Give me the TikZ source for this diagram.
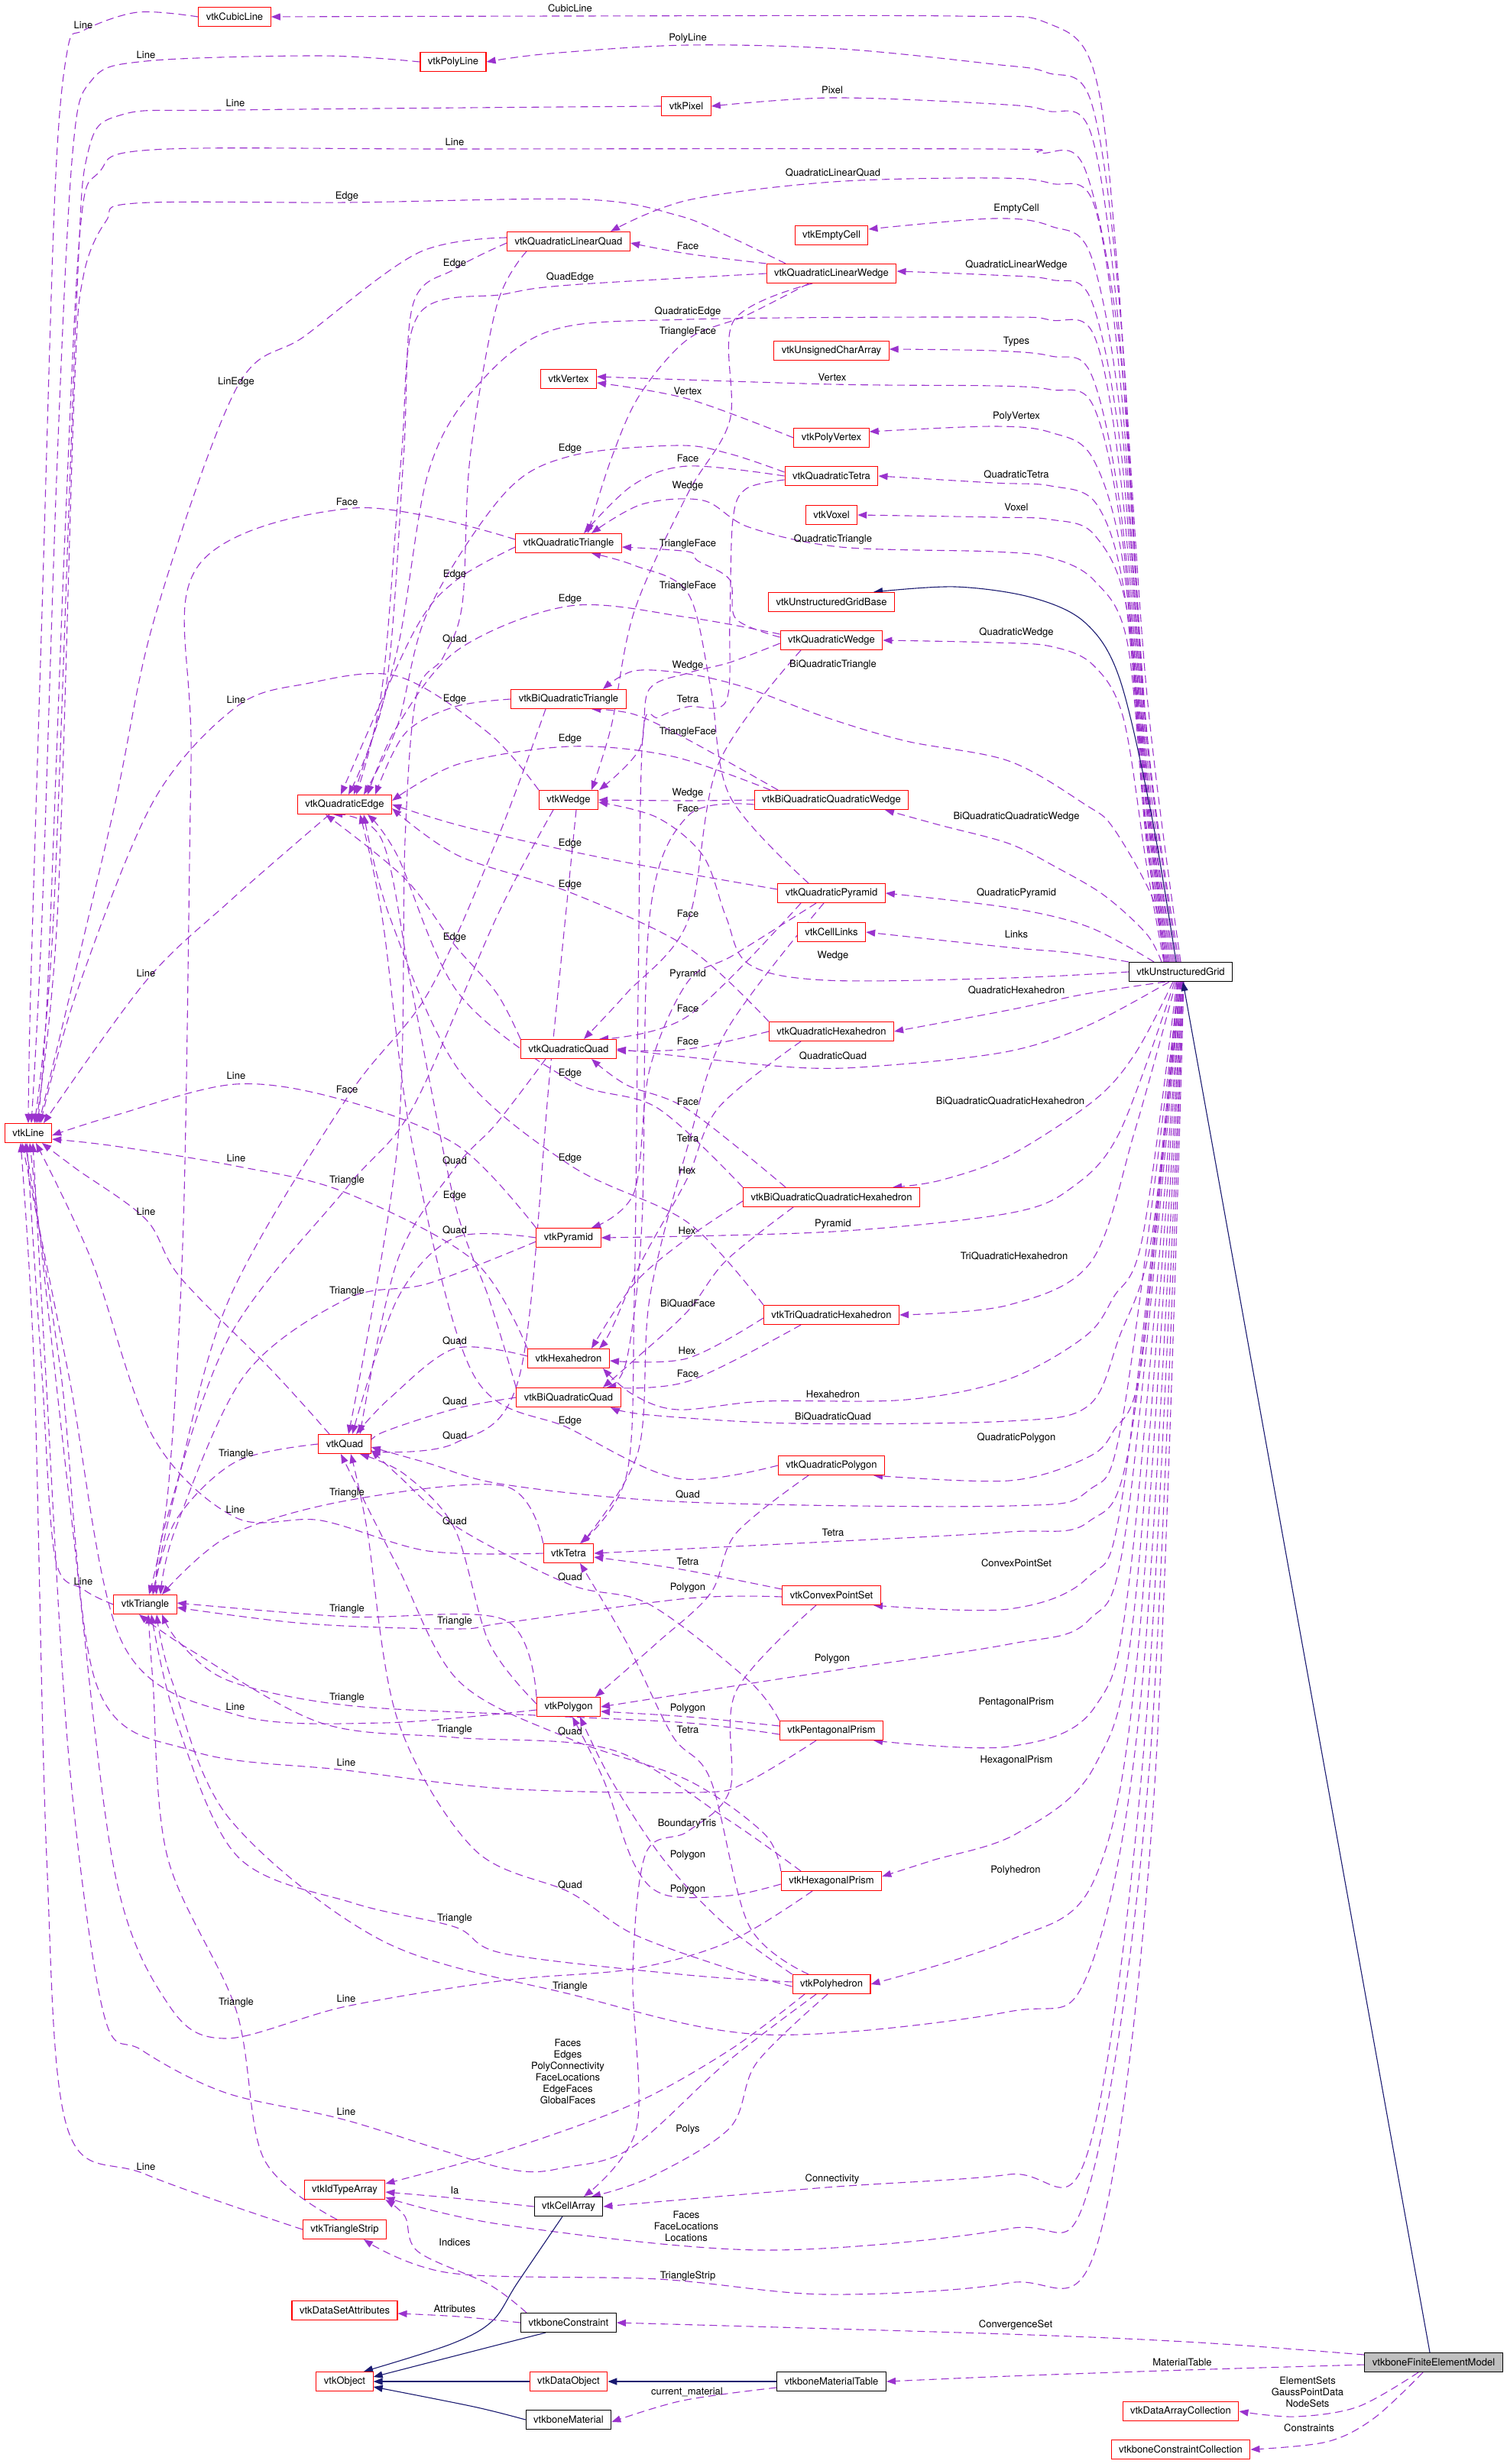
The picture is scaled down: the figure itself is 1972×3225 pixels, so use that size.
\documentclass[tikz,border=0pt]{standalone}
\usepackage{fontspec}
\setmainfont{TeX Gyre Heros}
\usepackage{tikz}
\usetikzlibrary{arrows.meta}
\definecolor{usecol}{RGB}{154,50,205}
\definecolor{isacol}{RGB}{25,25,112}
\definecolor{focusgray}{RGB}{191,191,191}
\pgfdeclarelayer{bg}
\pgfsetlayers{bg,main}

\begin{document}
\begin{tikzpicture}[
        x=1pt, y=-1pt,
        >={Triangle[length=12pt,width=9pt]},
        font=\fontsize{13}{15}\selectfont,
        vtkcls/.style={rectangle, draw=red, fill=white, line width=1.1pt, minimum height=25pt, inner xsep=10pt, inner ysep=0pt},
        bonecls/.style={vtkcls, draw=black},
        focuscls/.style={vtkcls, draw=black, fill=focusgray},
        lbl/.style={inner sep=0pt, align=center},
        uses/.style={->, draw=usecol, line width=1.1pt, dash pattern=on 10pt off 6pt},
        isa/.style={->, draw=isacol, line width=1.1pt}
    ]
        \useasboundingbox (0,0) rectangle (1972,3225);

        % classes
        \node[vtkcls] (cubic) at (307,22) {vtkCubicLine};
        \node[vtkcls] (polyline) at (593,81) {vtkPolyLine};
        \node[vtkcls] (pixel) at (898,139) {vtkPixel};
        \node[vtkcls] (emptycell) at (1088,308) {vtkEmptyCell};
        \node[vtkcls] (qlquad) at (744,316) {vtkQuadraticLinearQuad};
        \node[vtkcls] (qlwedge) at (1088,358) {vtkQuadraticLinearWedge};
        \node[vtkcls] (ucarray) at (1088,459) {vtkUnsignedCharArray};
        \node[vtkcls] (vertex) at (744,496) {vtkVertex};
        \node[vtkcls] (polyvertex) at (1088,573) {vtkPolyVertex};
        \node[vtkcls] (qtetra) at (1088,623) {vtkQuadraticTetra};
        \node[vtkcls] (voxel) at (1088,674) {vtkVoxel};
        \node[vtkcls] (qtri) at (744,711) {vtkQuadraticTriangle};
        \node[vtkcls] (ugbase) at (1088,788) {vtkUnstructuredGridBase};
        \node[vtkcls] (qwedge) at (1088,838) {vtkQuadraticWedge};
        \node[vtkcls] (bqtri) at (744,915) {vtkBiQuadraticTriangle};
        \node[vtkcls] (wedge) at (744,1047) {vtkWedge};
        \node[vtkcls] (bqqwedge) at (1088,1047) {vtkBiQuadraticQuadraticWedge};
        \node[vtkcls] (qedge) at (451,1053) {vtkQuadraticEdge};
        \node[vtkcls] (qpyr) at (1088,1169) {vtkQuadraticPyramid};
        \node[vtkcls] (links) at (1088,1220) {vtkCellLinks};
        \node[bonecls] (ug) at (1545,1272) {vtkUnstructuredGrid};
        \node[vtkcls] (qhex) at (1088,1350) {vtkQuadraticHexahedron};
        \node[vtkcls] (qquad) at (744,1373) {vtkQuadraticQuad};
        \node[vtkcls] (line) at (37,1483) {vtkLine};
        \node[vtkcls] (bqqhex) at (1088,1567) {vtkBiQuadraticQuadraticHexahedron};
        \node[vtkcls] (pyr) at (744,1620) {vtkPyramid};
        \node[vtkcls] (tqhex) at (1088,1721) {vtkTriQuadraticHexahedron};
        \node[vtkcls] (hex) at (744,1778) {vtkHexahedron};
        \node[vtkcls] (bqquad) at (744,1829) {vtkBiQuadraticQuad};
        \node[vtkcls] (quad) at (451,1890) {vtkQuad};
        \node[vtkcls] (qpoly) at (1088,1918) {vtkQuadraticPolygon};
        \node[vtkcls] (tetra) at (744,2033) {vtkTetra};
        \node[vtkcls] (cps) at (1088,2088) {vtkConvexPointSet};
        \node[vtkcls] (tri) at (190,2100) {vtkTriangle};
        \node[vtkcls] (polygon) at (744,2234) {vtkPolygon};
        \node[vtkcls] (penta) at (1088,2265) {vtkPentagonalPrism};
        \node[vtkcls] (hexa) at (1088,2462) {vtkHexagonalPrism};
        \node[vtkcls] (polyh) at (1088,2597) {vtkPolyhedron};
        \node[vtkcls] (idarr) at (451,2866) {vtkIdTypeArray};
        \node[bonecls] (cellarr) at (744,2888) {vtkCellArray};
        \node[vtkcls] (tstrip) at (451,2918) {vtkTriangleStrip};
        \node[vtkcls] (dsa) at (451,3024) {vtkDataSetAttributes};
        \node[bonecls] (bcons) at (744,3040) {vtkboneConstraint};
        \node[vtkcls] (obj) at (451,3117) {vtkObject};
        \node[vtkcls] (dobj) at (744,3117) {vtkDataObject};
        \node[bonecls] (mattab) at (1088,3117) {vtkboneMaterialTable};
        \node[bonecls] (mat) at (744,3167) {vtkboneMaterial};
        \node[focuscls] (fem) at (1876,3092) {vtkboneFiniteElementModel};
        \node[vtkcls] (dac) at (1545,3156) {vtkDataArrayCollection};
        \node[vtkcls] (bcc) at (1545,3206) {vtkboneConstraintCollection};

        \begin{pgfonlayer}{bg}
        % members of vtkUnstructuredGrid
        \draw[uses] plot[smooth,tension=.55] coordinates {(ug.north) (1500,900) (1462,350) (1432,95) (1370,30) (1250,21) (746,21) (cubic.east)};
        \draw[uses] plot[smooth,tension=.55] coordinates {([xshift=-2pt]ug.north) (1500,950) (1465,400) (1428,134) (1370,95) (1300,84) (1100,64) (900,59) (720,70) (polyline.east)};
        \draw[uses] plot[smooth,tension=.55] coordinates {([xshift=-4pt]ug.north) (1500,960) (1466,450) (1428,176) (1370,145) (1300,136) (1089,128) (pixel.east)};
        \draw[uses] plot[smooth,tension=.55] coordinates {([xshift=-6pt]ug.north) (1500,980) (1468,480) (1420,222) (1360,200) (1300,195) (595,195) (200,196) (130,225) (105,300) (85,700) (62,1300) ([xshift=12pt]line.north)};
        \draw[uses] plot[smooth,tension=.55] coordinates {([xshift=-8pt]ug.north) (1500,1000) (1468,520) (1432,269) (1375,240) (1300,233) (1090,238) (900,262) ([xshift=55pt]qlquad.north)};
        \draw[uses] plot[smooth,tension=.55] coordinates {([xshift=-10pt]ug.north) (1500,1005) (1468,560) (1428,336) (1375,296) (1300,286) ([yshift=8pt]emptycell.east)};
        \draw[uses] plot[smooth,tension=.55] coordinates {([xshift=-12pt]ug.north) (1500,1020) (1468,600) (1428,393) (1375,366) (1300,360) ([yshift=3pt]qlwedge.east)};
        \draw[uses] plot[smooth,tension=.55] coordinates {([xshift=-14pt]ug.north) (1500,1030) (1468,640) (1432,440) (1375,419) (1300,415) (900,418) (720,433) (620,510) (560,620) (520,850) ([xshift=12pt]qedge.north)};
        \draw[uses] plot[smooth,tension=.55] coordinates {([xshift=-16pt]ug.north) (1500,1040) (1468,680) (1428,490) (1375,466) (1300,459) ([yshift=2pt]ucarray.east)};
        \draw[uses] plot[smooth,tension=.55] coordinates {([xshift=-16pt]ug.north) (1500,1050) (1468,700) (1430,530) (1375,510) (1300,505) (1089,503) ([yshift=3pt]vertex.east)};
        \draw[uses] plot[smooth,tension=.55] coordinates {([xshift=-18pt]ug.north) (1500,1060) (1470,740) (1430,600) (1375,566) (1300,558) ([yshift=8pt]polyvertex.east)};
        \draw[uses] plot[smooth,tension=.55] coordinates {([xshift=-18pt]ug.north) (1500,1080) (1472,780) (1435,660) (1375,636) (1300,632) (qtetra.east)};
        \draw[uses] plot[smooth,tension=.55] coordinates {([xshift=-20pt]ug.north) (1500,1090) (1475,800) (1432,700) (1375,680) (1300,677) (voxel.east)};
        \draw[uses] plot[smooth,tension=.55] coordinates {([xshift=-20pt]ug.north) (1500,1100) (1475,840) (1432,760) (1375,730) (1300,722) (1100,716) (980,690) (920,655) (840,660) ([xshift=30pt]qtri.north)};
        \draw[uses] plot[smooth,tension=.55] coordinates {([xshift=-22pt]ug.north) (1500,1130) (1470,940) (1430,870) (1375,846) (1300,841) (qwedge.east)};
        \draw[uses] plot[smooth,tension=.55] coordinates {([xshift=-22pt]ug.north) (1510,1180) (1457,1084) (1420,1053) (1320,996) (1186,970) (1081,939) (976,900) (900,882) (830,878) ([xshift=45pt]bqtri.north)};
        \draw[uses] plot[smooth,tension=.55] coordinates {([xshift=-25pt]ug.north) (1500,1222) (1445,1172) (1382,1135) (1320,1104) (1230,1080) ([xshift=70pt]bqqwedge.south)};
        \draw[uses] plot[smooth,tension=.55] coordinates {([xshift=-35pt]ug.north) (1424,1213) (1320,1188) (qpyr.east)};
        \draw[uses] plot[smooth,tension=.55] coordinates {(ug.north west) (1400,1247) (1320,1240) (links.east)};
        \draw[uses] plot[smooth,tension=.55] coordinates {(ug.west) (1320,1280) (1081,1283) (980,1262) (950,1200) (920,1120) (860,1070) ([yshift=-3pt]wedge.east)};
        \draw[uses] plot[smooth,tension=.55] coordinates {([xshift=-20pt]ug.south) (1420,1301) (1320,1322) (qhex.east)};
        \draw[uses] plot[smooth,tension=.55] coordinates {([xshift=-15pt]ug.south) (1424,1342) (1320,1376) (1165,1394) (1039,1397) (qquad.east)};
        \draw[uses] plot[smooth,tension=.55] coordinates {([xshift=-10pt]ug.south) (1486,1378) (1432,1440) (1320,1513) (1230,1545) ([xshift=80pt]bqqhex.north)};
        \draw[uses] plot[smooth,tension=.55] coordinates {([xshift=-8pt]ug.south) (1465,1482) (1403,1554) (1320,1588) (1090,1612) (pyr.east)};
        \draw[uses] plot[smooth,tension=.55] coordinates {([xshift=-6pt]ug.south) (1485,1480) (1428,1651) (1320,1708) (tqhex.east)};
        \draw[uses] plot[smooth,tension=.55] coordinates {([xshift=-5pt]ug.south) (1495,1620) (1457,1698) (1420,1749) (1320,1805) (1186,1832) (1000,1834) (887,1845) (828,1825) ([xshift=45pt]hex.south)};
        \draw[uses] plot[smooth,tension=.55] coordinates {([xshift=-4pt]ug.south) (1507,1620) (1465,1749) (1424,1840) (1320,1860) (1039,1863) (850,1852) ([xshift=55pt]bqquad.south)};
        \draw[uses] plot[smooth,tension=.55] coordinates {([xshift=-3pt]ug.south) (1495,1775) (1457,1873) (1420,1909) (1320,1938) ([xshift=55pt]qpoly.south)};
        \draw[uses] plot[smooth,tension=.55] coordinates {([xshift=-2pt]ug.south) (1470,1850) (1424,1951) (1320,1971) (900,1966) (660,1943) (560,1915) ([yshift=-4pt]quad.east)};
        \draw[uses] plot[smooth,tension=.55] coordinates {([xshift=-1pt]ug.south) (1480,1880) (1424,1992) (1320,2005) (1081,2018) (tetra.east)};
        \draw[uses] plot[smooth,tension=.55] coordinates {(ug.south) (1470,1950) (1424,2064) (1320,2106) ([xshift=55pt]cps.south)};
        \draw[uses] plot[smooth,tension=.55] coordinates {(ug.south) (1475,1990) (1424,2121) (1320,2152) (1081,2188) (polygon.east)};
        \draw[uses] plot[smooth,tension=.55] coordinates {([xshift=1pt]ug.south) (1480,2050) (1432,2235) (1320,2286) ([xshift=55pt]penta.south)};
        \draw[uses] plot[smooth,tension=.55] coordinates {([xshift=1pt]ug.south) (1485,2100) (1432,2312) (1330,2400) (1220,2435) ([yshift=6pt]hexa.east)};
        \draw[uses] plot[smooth,tension=.55] coordinates {([xshift=2pt]ug.south) (1490,2150) (1432,2460) (1320,2540) (polyh.east)};
        \draw[uses] plot[smooth,tension=.55] coordinates {([xshift=2pt]ug.south) (1495,2200) (1424,2582) (1320,2633) (1000,2663) (746,2610) (500,2540) (300,2380) (225,2200) ([xshift=15pt]tri.south)};
        \draw[uses] plot[smooth,tension=.55] coordinates {([xshift=3pt]ug.south) (1500,2250) (1424,2815) (1320,2846) (1081,2863) (cellarr.east)};
        \draw[uses] plot[smooth,tension=.55] coordinates {([xshift=3pt]ug.south) (1505,2300) (1424,2866) (1320,2917) (997,2945) (660,2912) ([yshift=-10pt]idarr.east)};
        \draw[uses] plot[smooth,tension=.55] coordinates {([xshift=4pt]ug.south) (1510,2350) (1436,2937) (1320,2988) (1081,3003) (862,2983) (589,2975) ([xshift=25pt]tstrip.south)};
        \draw[isa] plot[smooth,tension=.55] coordinates {([xshift=-6pt]ug.north) (1507,1068) (1465,888) (1420,815) (1350,782) (1250,768) ([xshift=55pt]ugbase.north)};

        % vtkboneFiniteElementModel and below
        \draw[isa] ([xshift=-5pt]fem.north) -- ([xshift=3pt]ug.south);
        \draw[uses] plot[smooth,tension=.55] coordinates {([yshift=10pt]fem.west) (1569,3066) (1320,3055) (bcons.east)};
        \draw[uses] plot[smooth,tension=.55] coordinates {([yshift=-3pt]fem.west) (1550,3102) (1320,3110) (mattab.east)};
        \draw[uses] plot[smooth,tension=.55] coordinates {([xshift=-20pt]fem.south) (1777,3150) (1694,3163) (dac.east)};
        \draw[uses] plot[smooth,tension=.55] coordinates {([xshift=-14pt]fem.south) (1798,3165) (1736,3196) (bcc.east)};
        \draw[isa] (mattab.west) -- (dobj.east);
        \draw[uses] plot[smooth,tension=.55] coordinates {([yshift=-8pt]mattab.west) (893,3142) ([yshift=-3pt]mat.east)};
        \draw[isa] (dobj.west) -- (obj.east);
        \draw[isa] plot[smooth,tension=.55] coordinates {(mat.west) (620,3150) ([yshift=-7pt]obj.east)};
        \draw[isa] plot[smooth,tension=.55] coordinates {([xshift=-30pt]bcons.south) (640,3072) ([yshift=6pt]obj.east)};
        \draw[isa] plot[smooth,tension=.55] coordinates {([xshift=-8pt]cellarr.south) (677,2988) (644,3038) (590,3068) ([xshift=25pt]obj.north)};
        \draw[uses] plot[smooth,tension=.55] coordinates {(bcons.west) (600,3032) ([yshift=-4pt]dsa.east)};
        \draw[uses] plot[smooth,tension=.55] coordinates {(cellarr.west) (595,2877) ([yshift=-3pt]idarr.east)};
        \draw[uses] plot[smooth,tension=.55] coordinates {([xshift=-55pt]bcons.north) (640,2990) (547,2947) (530,2901) (idarr.south east)};

        % vtkPolyhedron
        \draw[uses] plot[smooth,tension=.55] coordinates {([xshift=-5pt]polyh.south) (990,2700) (955,2785) (850,2850) ([xshift=30pt]cellarr.north)};
        \draw[uses] plot[smooth,tension=.55] coordinates {([xshift=-35pt]polyh.south) (955,2683) (828,2754) (660,2815) ([yshift=8pt]idarr.east)};
        \draw[uses] plot[smooth,tension=.55] coordinates {([xshift=-30pt]polyh.north) (980,2520) (930,2330) (880,2272) (820,2150) ([xshift=15pt]tetra.south)};
        \draw[uses] plot[smooth,tension=.55] coordinates {(polyh.north west) (950,2520) (870,2436) (800,2330) ([xshift=15pt]polygon.south)};
        \draw[uses] plot[smooth,tension=.55] coordinates {([yshift=-3pt]polyh.west) (955,2577) (828,2531) (746,2477) (620,2420) (520,2250) (480,2000) ([xshift=8pt]quad.south)};
        \draw[uses] plot[smooth,tension=.55] coordinates {([yshift=3pt]polyh.west) (900,2585) (660,2557) (595,2522) (463,2491) (311,2430) (230,2250) ([xshift=8pt]tri.south)};
        \draw[uses] plot[smooth,tension=.55] coordinates {([xshift=-20pt]polyh.south) (950,2700) (828,2810) (744,2836) (660,2838) (453,2775) (295,2739) (185,2683) (135,2633) (90,2300) (60,1800) ([xshift=6pt]line.south)};

        % vtkHexagonalPrism, vtkPentagonalPrism, vtkConvexPointSet
        \draw[uses] plot[smooth,tension=.55] coordinates {([yshift=-4pt]hexa.west) (955,2481) (870,2480) (830,2440) (790,2330) ([xshift=5pt]polygon.south)};
        \draw[uses] plot[smooth,tension=.55] coordinates {(hexa.north west) (1000,2400) (900,2330) (746,2276) (600,2200) (520,2050) ([xshift=-5pt]quad.south)};
        \draw[uses] plot[smooth,tension=.55] coordinates {([xshift=-25pt]hexa.south) (955,2541) (828,2577) (660,2592) (453,2626) (295,2668) (220,2623) (150,2450) (95,2000) ([xshift=2pt]line.south)};
        \draw[uses] plot[smooth,tension=.55] coordinates {([xshift=-40pt]hexa.north) (950,2380) (800,2290) (595,2274) (420,2255) (250,2160) ([xshift=-8pt]tri.south)};
        \draw[uses] plot[smooth,tension=.55] coordinates {([yshift=6pt]penta.west) (900,2247) ([yshift=-6pt]polygon.east)};
        \draw[uses] plot[smooth,tension=.55] coordinates {(penta.north west) (980,2200) (850,2100) (746,2074) (600,2000) (520,1930) ([yshift=-8pt]quad.east)};
        \draw[uses] plot[smooth,tension=.55] coordinates {([xshift=-20pt]penta.south) (976,2333) (913,2346) (660,2341) (453,2317) (253,2292) (126,2204) (80,1800) ([xshift=-4pt]line.south)};
        \draw[uses] plot[smooth,tension=.55] coordinates {([yshift=-5pt]penta.west) (900,2255) (700,2245) (454,2232) (300,2200) (235,2150) ([xshift=22pt]tri.south)};
        \draw[uses] plot[smooth,tension=.55] coordinates {([yshift=8pt]cps.west) (891,2054) ([yshift=-5pt]tetra.east)};
        \draw[uses] plot[smooth,tension=.55] coordinates {([yshift=-2pt]cps.west) (900,2092) (660,2124) (595,2132) (400,2125) ([yshift=-4pt]tri.east)};
        \draw[uses] plot[smooth,tension=.55] coordinates {([xshift=-20pt]cps.south) (963,2214) (955,2343) (900,2397) (845,2426) (828,2582) (833,2785) ([xshift=20pt]cellarr.north)};

        % vtkQuadraticPolygon, vtkTriQuadraticHexahedron, vtkBiQuadraticQuadraticHexahedron
        \draw[uses] plot[smooth,tension=.55] coordinates {([xshift=-30pt]qpoly.south) (963,2007) (930,2085) (860,2150) ([xshift=35pt]polygon.north)};
        \draw[uses] plot[smooth,tension=.55] coordinates {(qpoly.west) (887,1935) (746,1870) (620,1800) (540,1500) (500,1200) ([xshift=20pt]qedge.south)};
        \draw[uses] plot[smooth,tension=.55] coordinates {([yshift=-4pt]tqhex.west) (899,1778) ([yshift=-3pt]hex.east)};
        \draw[uses] plot[smooth,tension=.55] coordinates {([xshift=-40pt]tqhex.south) (900,1808) ([xshift=50pt]bqquad.north)};
        \draw[uses] plot[smooth,tension=.55] coordinates {(tqhex.north west) (900,1600) (746,1525) (600,1400) (510,1200) ([xshift=25pt]qedge.south)};
        \draw[uses] plot[smooth,tension=.55] coordinates {([xshift=-60pt]bqqhex.north) (900,1452) (820,1420) ([xshift=30pt]qquad.south)};
        \draw[uses] plot[smooth,tension=.55] coordinates {([yshift=-5pt]bqqhex.west) (899,1621) (830,1680) ([xshift=30pt]hex.north)};
        \draw[uses] plot[smooth,tension=.55] coordinates {([xshift=-50pt]bqqhex.south) (950,1650) (900,1716) (830,1780) ([xshift=45pt]bqquad.north)};
        \draw[uses] plot[smooth,tension=.55] coordinates {(bqqhex.north west) (860,1450) (746,1414) (600,1300) (520,1120) ([xshift=30pt]qedge.south)};

        % vtkQuadraticHexahedron, vtkQuadraticPyramid
        \draw[uses] plot[smooth,tension=.55] coordinates {(qhex.west) (900,1373) ([yshift=-2pt]qquad.east)};
        \draw[uses] plot[smooth,tension=.55] coordinates {([xshift=-40pt]qhex.south) (940,1450) (899,1543) (840,1650) (800,1740) ([xshift=40pt]hex.north)};
        \draw[uses] plot[smooth,tension=.55] coordinates {(qhex.north west) (900,1240) (746,1168) (600,1120) ([yshift=-5pt]qedge.east)};
        \draw[uses] plot[smooth,tension=.55] coordinates {([xshift=-30pt]qpyr.north) (955,1042) (930,900) (900,776) (830,740) ([xshift=30pt]qtri.south)};
        \draw[uses] plot[smooth,tension=.55] coordinates {([xshift=-40pt]qpyr.south) (900,1330) ([xshift=40pt]qquad.north)};
        \draw[uses] plot[smooth,tension=.55] coordinates {([xshift=-20pt]qpyr.south) (960,1250) (900,1285) (850,1400) (830,1560) ([xshift=30pt]pyr.north)};
        \draw[uses] plot[smooth,tension=.55] coordinates {([xshift=-10pt]qpyr.south) (950,1350) (900,1500) (850,1700) (835,1900) ([xshift=17pt]tetra.north)};
        \draw[uses] plot[smooth,tension=.55] coordinates {([yshift=5pt]qpyr.west) (880,1140) (746,1114) (600,1080) (qedge.east)};

        % vtkBiQuadraticQuadraticWedge, vtkQuadraticWedge
        \draw[uses] plot[smooth,tension=.55] coordinates {(bqqwedge.west) (900,1048) (wedge.east)};
        \draw[uses] plot[smooth,tension=.55] coordinates {([xshift=-70pt]bqqwedge.north) (900,968) (830,935) ([xshift=30pt]bqtri.south)};
        \draw[uses] plot[smooth,tension=.55] coordinates {([yshift=-6pt]bqqwedge.west) (900,1068) (850,1200) (840,1600) (820,1780) ([xshift=50pt]bqquad.north)};
        \draw[uses] plot[smooth,tension=.55] coordinates {([xshift=-80pt]bqqwedge.north) (880,990) (746,977) (600,1000) ([yshift=5pt]qedge.east)};
        \draw[uses] plot[smooth,tension=.55] coordinates {([yshift=4pt]qwedge.west) (963,810) (955,759) (913,734) (900,722) ([yshift=-5pt]qtri.east)};
        \draw[uses] plot[smooth,tension=.55] coordinates {([yshift=-4pt]qwedge.west) (955,867) (900,881) (849,903) (837,980) ([xshift=40pt]wedge.north)};
        \draw[uses] plot[smooth,tension=.55] coordinates {([yshift=8pt]qwedge.west) (900,808) (746,793) (600,850) (520,950) ([xshift=30pt]qedge.north)};
        \draw[uses] plot[smooth,tension=.55] coordinates {([xshift=-40pt]qwedge.south) (940,1000) (900,1206) (820,1300) ([xshift=20pt]qquad.north)};

        % vtkQuadraticTetra, vtkPolyVertex, vtkQuadraticLinearWedge
        \draw[uses] plot[smooth,tension=.55] coordinates {([yshift=5pt]qtetra.west) (955,594) (887,583) (746,597) (660,646) (560,800) (520,950) ([xshift=25pt]qedge.north)};
        \draw[uses] plot[smooth,tension=.55] coordinates {(qtetra.west) (900,610) (828,635) ([xshift=20pt]qtri.north)};
        \draw[uses] plot[smooth,tension=.55] coordinates {([yshift=-5pt]qtetra.west) (976,640) (959,680) (955,810) (950,918) (900,925) (862,939) (841,965) (835,1300) (830,1700) (820,1930) ([xshift=15pt]tetra.north)};
        \draw[uses] plot[smooth,tension=.55] coordinates {(polyvertex.west) (900,522) ([yshift=-5pt]vertex.east)};
        \draw[uses] plot[smooth,tension=.55] coordinates {(qlwedge.north west) (899,332) ([yshift=-2pt]qlquad.east)};
        \draw[uses] plot[smooth,tension=.55] coordinates {(qlwedge.west) (746,373) (660,385) (547,413) (525,600) (500,900) ([xshift=15pt]qedge.north)};
        \draw[uses] plot[smooth,tension=.55] coordinates {([xshift=-60pt]qlwedge.north) (955,310) (887,282) (765,261) (454,265) (177,266) (139,289) (109,362) (97,517) (75,1200) ([xshift=10pt]line.north)};
        \draw[uses] plot[smooth,tension=.55] coordinates {([xshift=-30pt]qlwedge.south) (976,413) (900,444) (837,517) (800,600) ([xshift=25pt]qtri.north)};
        \draw[uses] plot[smooth,tension=.55] coordinates {([xshift=-25pt]qlwedge.south) (960,420) (955,550) (900,646) (830,800) (800,950) ([xshift=30pt]wedge.north)};

        % vtkPixel, vtkPolyLine, vtkCubicLine
        \draw[uses] plot[smooth,tension=.55] coordinates {(pixel.west) (308,144) (160,150) (115,200) (100,400) (70,1200) ([xshift=8pt]line.north)};
        \draw[uses] plot[smooth,tension=.55] coordinates {(polyline.west) (420,73) (191,80) (120,105) (95,200) (75,600) (55,1200) ([xshift=4pt]line.north)};
        \draw[uses] plot[smooth,tension=.55] coordinates {(cubic.west) (180,16) (109,40) (88,67) (72,250) (55,800) (40,1300) (line.north)};

        % vtkQuadraticLinearQuad, vtkQuadraticTriangle, vtkBiQuadraticTriangle
        \draw[uses] plot[smooth,tension=.55] coordinates {([yshift=-2pt]qlquad.west) (595,352) (540,400) (528,600) (505,900) ([xshift=5pt]qedge.north)};
        \draw[uses] plot[smooth,tension=.55] coordinates {([yshift=5pt]qlquad.west) (547,331) (400,439) (309,509) (202,810) (147,1068) ([xshift=14pt]line.north)};
        \draw[uses] plot[smooth,tension=.55] coordinates {([xshift=-55pt]qlquad.south) (650,400) (615,600) (605,790) (580,860) (545,910) (530,1100) (520,1500) ([xshift=5pt]quad.north)};
        \draw[uses] plot[smooth,tension=.55] coordinates {([yshift=-5pt]qtri.west) (595,761) (540,830) ([xshift=-5pt]qedge.north)};
        \draw[uses] plot[smooth,tension=.55] coordinates {([yshift=5pt]qtri.west) (463,665) (257,744) (250,1000) (240,1600) (220,1950) ([xshift=5pt]tri.north)};
        \draw[uses] plot[smooth,tension=.55] coordinates {(bqtri.west) (595,925) (530,960) ([xshift=40pt]qedge.north)};
        \draw[uses] plot[smooth,tension=.55] coordinates {([xshift=-30pt]bqtri.south) (650,1100) (560,1300) (454,1437) (300,1700) (230,1950) ([xshift=10pt]tri.north)};

        % vtkWedge, vtkQuadraticQuad, vtkPyramid, vtkHexahedron, vtkBiQuadraticQuad
        \draw[uses] plot[smooth,tension=.55] coordinates {(wedge.north west) (640,960) (520,885) (400,895) (308,926) (200,1050) (100,1300) ([xshift=16pt]line.north)};
        \draw[uses] plot[smooth,tension=.55] coordinates {([xshift=-20pt]wedge.south) (650,1200) (540,1450) (454,1554) (300,1750) (215,2000) ([xshift=15pt]tri.north)};
        \draw[uses] plot[smooth,tension=.55] coordinates {([xshift=10pt]wedge.south) (720,1400) (680,1800) (595,1889) ([yshift=-10pt]quad.east)};
        \draw[uses] plot[smooth,tension=.55] coordinates {(qquad.north west) (650,1300) (595,1237) (530,1150) ([xshift=-25pt]qedge.south)};
        \draw[uses] plot[smooth,tension=.55] coordinates {([xshift=-30pt]qquad.south) (650,1470) (595,1529) (520,1650) ([xshift=20pt]quad.north)};
        \draw[uses] plot[smooth,tension=.55] coordinates {(pyr.north west) (600,1500) (450,1440) (308,1419) (150,1460) ([yshift=-3pt]line.east)};
        \draw[uses] plot[smooth,tension=.55] coordinates {([yshift=-5pt]pyr.west) (560,1680) (454,1700) (320,1800) (230,2000) ([xshift=20pt]tri.north)};
        \draw[uses] plot[smooth,tension=.55] coordinates {(pyr.west) (595,1620) (520,1700) ([xshift=10pt]quad.north)};
        \draw[uses] plot[smooth,tension=.55] coordinates {(hex.north west) (620,1650) (450,1560) (308,1526) (150,1500) ([yshift=-8pt]line.east)};
        \draw[uses] plot[smooth,tension=.55] coordinates {([yshift=3pt]hex.west) (595,1765) (510,1830) ([xshift=15pt]quad.north)};
        \draw[uses] plot[smooth,tension=.55] coordinates {(bqquad.north west) (640,1700) (595,1574) (540,1300) (500,1100) ([xshift=-15pt]qedge.south)};
        \draw[uses] plot[smooth,tension=.55] coordinates {(bqquad.west) (595,1844) (500,1875) (quad.east)};

        % vtkTetra, vtkPolygon
        \draw[uses] plot[smooth,tension=.55] coordinates {(tetra.west) (560,2030) (420,1990) (308,1986) (200,1880) (120,1650) ([xshift=10pt]line.south)};
        \draw[uses] plot[smooth,tension=.55] coordinates {(tetra.north west) (660,1945) (454,1964) (300,2010) ([xshift=22pt]tri.north)};
        \draw[uses] plot[smooth,tension=.55] coordinates {([yshift=-4pt]polygon.west) (500,2255) (308,2244) (160,2150) (90,1800) ([xshift=-8pt]line.south)};
        \draw[uses] plot[smooth,tension=.55] coordinates {(polygon.north west) (660,2120) (454,2116) ([yshift=2pt]tri.east)};
        \draw[uses] plot[smooth,tension=.55] coordinates {([yshift=4pt]polygon.west) (640,2150) (595,2001) (530,1930) ([xshift=20pt]quad.south)};

        % vtkQuadraticEdge, vtkQuad, vtkTriangle, vtkTriangleStrip
        \draw[uses] plot[smooth,tension=.55] coordinates {([xshift=-20pt]qedge.south) (300,1180) (191,1284) ([xshift=20pt]line.north)};
        \draw[uses] plot[smooth,tension=.55] coordinates {([xshift=-20pt]quad.north) (358,1796) (236,1672) (191,1596) (100,1530) ([xshift=18pt]line.south)};
        \draw[uses] plot[smooth,tension=.55] coordinates {(quad.west) (309,1913) (230,1990) ([xshift=10pt]tri.north)};
        \draw[uses] plot[smooth,tension=.55] coordinates {(tri.west) (109,2080) (72,2038) (55,1800) ([xshift=-2pt]line.south)};
        \draw[uses] plot[smooth,tension=.55] coordinates {(tstrip.west) (191,2846) (88,2785) (61,2430) (45,1800) ([xshift=-10pt]line.south)};
        \draw[uses] plot[smooth,tension=.55] coordinates {([xshift=-10pt]tstrip.north) (345,2825) (309,2631) (219,2430) (200,2200) ([xshift=4pt]tri.south)};
        \end{pgfonlayer}

        % labels of vtkUnstructuredGrid members
        \node[lbl] (u1) at (746,11) {CubicLine};
        \node[lbl] (u2) at (900,50) {PolyLine};
        \node[lbl] (u3) at (1089,118) {Pixel};
        \node[lbl] (u4) at (595,186) {Line};
        \node[lbl] (u5) at (1090,226) {QuadraticLinearQuad};
        \node[lbl] (u6) at (1330,273) {EmptyCell};
        \node[lbl] (u7) at (1330,347) {QuadraticLinearWedge};
        \node[lbl] (u8) at (900,408) {QuadraticEdge};
        \node[lbl] (u9) at (1330,447) {Types};
        \node[lbl] (u10) at (1089,494) {Vertex};
        \node[lbl] (u11) at (1330,545) {PolyVertex};
        \node[lbl] (u12) at (1330,621) {QuadraticTetra};
        \node[lbl] (u13) at (1330,664) {Voxel};
        \node[lbl] (u14) at (1090,706) {QuadraticTriangle};
        \node[lbl] (u15) at (1330,828) {QuadraticWedge};
        \node[lbl] (u16) at (1090,870) {BiQuadraticTriangle};
        \node[lbl] (u17) at (1330,1069) {BiQuadraticQuadraticWedge};
        \node[lbl] (u18) at (1330,1169) {QuadraticPyramid};
        \node[lbl] (u19) at (1330,1223) {Links};
        \node[lbl] (u20) at (1090,1251) {Wedge};
        \node[lbl] (u21) at (1330,1296) {QuadraticHexahedron};
        \node[lbl] (u22) at (1090,1382) {QuadraticQuad};
        \node[lbl] (u23) at (1322,1441) {BiQuadraticQuadraticHexahedron};
        \node[lbl] (u24) at (1090,1602) {Pyramid};
        \node[lbl] (u25) at (1327,1644) {TriQuadraticHexahedron};
        \node[lbl] (u26) at (1090,1825) {Hexahedron};
        \node[lbl] (u27) at (1090,1854) {BiQuadraticQuad};
        \node[lbl] (u28) at (1330,1882) {QuadraticPolygon};
        \node[lbl] (u29) at (900,1956) {Quad};
        \node[lbl] (u30) at (1090,2006) {Tetra};
        \node[lbl] (u31) at (1330,2046) {ConvexPointSet};
        \node[lbl] (u32) at (1089,2171) {Polygon};
        \node[lbl] (u33) at (1330,2228) {PentagonalPrism};
        \node[lbl] (u34) at (1330,2304) {HexagonalPrism};
        \node[lbl] (u35) at (1329,2448) {Polyhedron};
        \node[lbl] (u36) at (746,2600) {Triangle};
        \node[lbl] (u37) at (1089,2852) {Connectivity};
        \node[lbl] (u38) at (898,2914) {Faces\\FaceLocations\\Locations};
        \node[lbl] (u39) at (900,2979) {TriangleStrip};

        % labels at the bottom
        \node[lbl] (b1) at (1329,3043) {ConvergenceSet};
        \node[lbl] (b2) at (1547,3092) {MaterialTable};
        \node[lbl] (b3) at (1711,3131) {ElementSets\\GaussPointData\\NodeSets};
        \node[lbl] (b4) at (1713,3178) {Constraints};
        \node[lbl] (b5) at (899,3131) {current\_material};
        \node[lbl] (b6) at (595,2867) {Ia};
        \node[lbl] (b7) at (595,2935) {Indices};
        \node[lbl] (b8) at (595,3022) {Attributes};
        \node[lbl] (b9) at (900,2787) {Polys};
        \node[lbl] (b10) at (743,2711) {Faces\\Edges\\PolyConnectivity\\FaceLocations\\EdgeFaces\\GlobalFaces};

        % labels of the cell members
        \node[lbl] (m1) at (109,33) {Line};
        \node[lbl] (m2) at (191,72) {Line};
        \node[lbl] (m3) at (308,135) {Line};
        \node[lbl] (m4) at (454,257) {Edge};
        \node[lbl] (m5) at (595,345) {Edge};
        \node[lbl] (m6) at (309,500) {LinEdge};
        \node[lbl] (m7) at (900,322) {Face};
        \node[lbl] (m8) at (746,363) {QuadEdge};
        \node[lbl] (m9) at (900,434) {TriangleFace};
        \node[lbl] (m10) at (900,512) {Vertex};
        \node[lbl] (m11) at (746,587) {Edge};
        \node[lbl] (m12) at (900,600) {Face};
        \node[lbl] (m13) at (900,636) {Wedge};
        \node[lbl] (m14) at (454,657) {Face};
        \node[lbl] (m15) at (900,712) {TriangleFace};
        \node[lbl] (m16) at (595,752) {Edge};
        \node[lbl] (m17) at (900,767) {TriangleFace};
        \node[lbl] (m18) at (746,784) {Edge};
        \node[lbl] (m19) at (595,836) {Quad};
        \node[lbl] (m20) at (900,871) {Wedge};
        \node[lbl] (m21) at (900,915) {Tetra};
        \node[lbl] (m22) at (309,916) {Line};
        \node[lbl] (m23) at (595,915) {Edge};
        \node[lbl] (m24) at (900,958) {TriangleFace};
        \node[lbl] (m25) at (746,967) {Edge};
        \node[lbl] (m26) at (900,1038) {Wedge};
        \node[lbl] (m27) at (900,1058) {Face};
        \node[lbl] (m28) at (746,1104) {Edge};
        \node[lbl] (m29) at (746,1158) {Edge};
        \node[lbl] (m30) at (900,1196) {Face};
        \node[lbl] (m31) at (595,1227) {Edge};
        \node[lbl] (m32) at (191,1274) {Line};
        \node[lbl] (m33) at (900,1275) {Pyramid};
        \node[lbl] (m34) at (900,1320) {Face};
        \node[lbl] (m35) at (900,1363) {Face};
        \node[lbl] (m36) at (746,1405) {Edge};
        \node[lbl] (m37) at (309,1408) {Line};
        \node[lbl] (m38) at (454,1426) {Face};
        \node[lbl] (m39) at (900,1442) {Face};
        \node[lbl] (m40) at (900,1490) {Tetra};
        \node[lbl] (m41) at (309,1516) {Line};
        \node[lbl] (m42) at (746,1516) {Edge};
        \node[lbl] (m43) at (595,1519) {Quad};
        \node[lbl] (m44) at (899,1532) {Hex};
        \node[lbl] (m45) at (454,1545) {Triangle};
        \node[lbl] (m46) at (595,1565) {Edge};
        \node[lbl] (m47) at (191,1586) {Line};
        \node[lbl] (m48) at (595,1610) {Quad};
        \node[lbl] (m49) at (899,1611) {Hex};
        \node[lbl] (m50) at (454,1690) {Triangle};
        \node[lbl] (m51) at (900,1706) {BiQuadFace};
        \node[lbl] (m52) at (595,1755) {Quad};
        \node[lbl] (m53) at (899,1768) {Hex};
        \node[lbl] (m54) at (900,1798) {Face};
        \node[lbl] (m55) at (595,1834) {Quad};
        \node[lbl] (m56) at (746,1860) {Edge};
        \node[lbl] (m57) at (595,1879) {Quad};
        \node[lbl] (m58) at (309,1903) {Triangle};
        \node[lbl] (m59) at (454,1954) {Triangle};
        \node[lbl] (m60) at (308,1976) {Line};
        \node[lbl] (m61) at (595,1991) {Quad};
        \node[lbl] (m62) at (900,2044) {Tetra};
        \node[lbl] (m63) at (746,2064) {Quad};
        \node[lbl] (m64) at (109,2070) {Line};
        \node[lbl] (m65) at (900,2078) {Polygon};
        \node[lbl] (m66) at (454,2106) {Triangle};
        \node[lbl] (m67) at (595,2122) {Triangle};
        \node[lbl] (m68) at (454,2222) {Triangle};
        \node[lbl] (m69) at (308,2234) {Line};
        \node[lbl] (m70) at (900,2236) {Polygon};
        \node[lbl] (m71) at (595,2264) {Triangle};
        \node[lbl] (m72) at (746,2266) {Quad};
        \node[lbl] (m73) at (900,2264) {Tetra};
        \node[lbl] (m74) at (453,2307) {Line};
        \node[lbl] (m75) at (899,2387) {BoundaryTris};
        \node[lbl] (m76) at (900,2428) {Polygon};
        \node[lbl] (m77) at (746,2467) {Quad};
        \node[lbl] (m78) at (900,2473) {Polygon};
        \node[lbl] (m79) at (595,2511) {Triangle};
        \node[lbl] (m80) at (453,2616) {Line};
        \node[lbl] (m81) at (309,2621) {Triangle};
        \node[lbl] (m82) at (453,2764) {Line};
        \node[lbl] (m83) at (191,2836) {Line};
    \end{tikzpicture}
\end{document}
